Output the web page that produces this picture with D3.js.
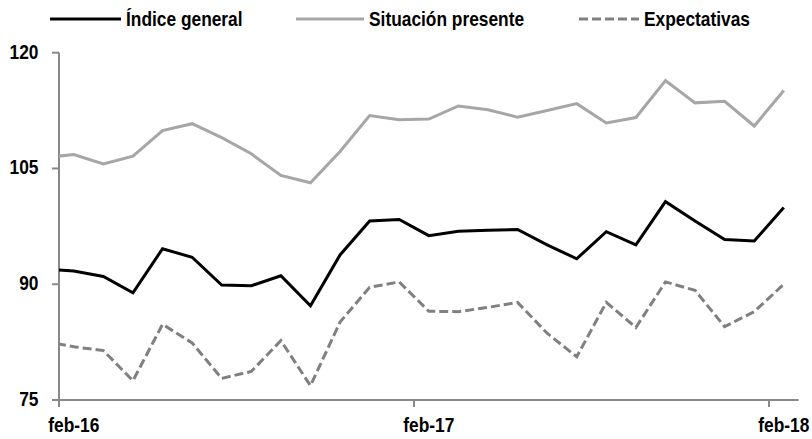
<!DOCTYPE html>
<html>
<head>
<meta charset="utf-8">
<script src="https://cdn.jsdelivr.net/npm/d3@7"></script>
<style>
  html, body { margin: 0; padding: 0; background: #fff; }
  svg { display: block; }
  text { font-family: "Liberation Sans", Arial, sans-serif; font-weight: bold; fill: #000; font-size: 19.5px; }
</style>
</head>
<body>
<svg id="chart" width="812" height="439"></svg>
<script>
// Monthly categories (jan-16 is partly outside the plotted range and clipped at the axis)
const months = ["ene-16","feb-16","mar-16","abr-16","may-16","jun-16","jul-16","ago-16","sep-16","oct-16","nov-16","dic-16",
                "ene-17","feb-17","mar-17","abr-17","may-17","jun-17","jul-17","ago-17","sep-17","oct-17","nov-17","dic-17",
                "ene-18","feb-18"];
const indiceGeneral = [92.0, 91.7, 91.0, 88.9, 94.6, 93.5, 89.9, 89.8, 91.1, 87.2, 93.8, 98.2,
                       98.4, 96.3, 96.85, 97.0, 97.1, 95.1, 93.3, 96.8, 95.1, 100.7, 98.2, 95.8,
                       95.6, 99.95];
const situacionPresente = [106.4, 106.8, 105.6, 106.6, 109.9, 110.8, 109.0, 106.9, 104.1, 103.15, 107.2, 111.85,
                           111.3, 111.4, 113.1, 112.6, 111.65, 112.5, 113.4, 110.9, 111.6, 116.4, 113.5, 113.7,
                           110.5, 115.1];
const expectativas = [82.6, 81.9, 81.4, 77.5, 84.8, 82.4, 77.8, 78.7, 82.7, 76.85, 85.1, 89.6,
                      90.3, 86.5, 86.45, 87.0, 87.65, 83.65, 80.6, 87.65, 84.4, 90.3, 89.2, 84.5,
                      86.45, 90.0];
const seriesNames = ["Índice general", "Situación presente", "Expectativas"];
const yTicks = [75, 90, 105, 120];
const xTickLabels = ["feb-16", "feb-17", "feb-18"];

(function () {
const svg = d3.select("#chart");
const mLeft = 59, mRight = 798.6, mTop = 52.7, mBottom = 400;
const narrow = 0.89; // condensed look of the original typeface

// x: month boundaries, feb-16 start = 0; each data point sits mid-month
const x = d3.scaleLinear().domain([0, 25]).range([mLeft, mRight]);
const y = d3.scaleLinear().domain([75, 120]).range([mBottom, mTop]);
const pos = i => i - 0.5;

function label(parent, tx, ty, anchor, str) {
  return parent.append("text")
    .attr("transform", `translate(${tx},${ty}) scale(${narrow},1)`)
    .attr("text-anchor", anchor).text(str);
}

svg.append("defs").append("clipPath").attr("id", "plot")
  .append("rect").attr("x", mLeft).attr("y", 0).attr("width", mRight - mLeft + 10).attr("height", 439);

const axisColor = "#898989";

// Y axis
const yAxis = svg.append("g");
yAxis.append("line").attr("x1", mLeft).attr("x2", mLeft).attr("y1", y(120)).attr("y2", y(75))
  .attr("stroke", axisColor).attr("stroke-width", 2);
yAxis.selectAll("line.t").data(yTicks).enter().append("line")
  .attr("x1", mLeft - 7).attr("x2", mLeft).attr("y1", d => y(d)).attr("y2", d => y(d))
  .attr("stroke", axisColor).attr("stroke-width", 2);
yTicks.forEach(d => label(yAxis, 38.5, y(d) + 6, "end", d));

// X axis
const xTickPos = xTickLabels.map(l => months.indexOf(l) - 1); // month-start boundaries
const xAxis = svg.append("g");
xAxis.append("line").attr("x1", mLeft).attr("x2", mRight).attr("y1", mBottom).attr("y2", mBottom)
  .attr("stroke", axisColor).attr("stroke-width", 2);
xAxis.selectAll("line.t").data(xTickPos).enter().append("line")
  .attr("x1", d => x(d)).attr("x2", d => x(d)).attr("y1", mBottom).attr("y2", mBottom + 7)
  .attr("stroke", axisColor).attr("stroke-width", 2);
xTickLabels.forEach(l => label(xAxis, x(pos(months.indexOf(l))), 432, "middle", l));

const line = d3.line().x((d, i) => x(pos(i))).y(d => y(d));
const plot = svg.append("g").attr("clip-path", "url(#plot)");

const styles = [
  { data: situacionPresente, color: "#a6a6a6", dash: null },
  { data: expectativas, color: "#808080", dash: "9,4" },
  { data: indiceGeneral, color: "#000000", dash: null }
];
styles.forEach(s => {
  plot.append("path").datum(s.data).attr("d", line)
    .attr("fill", "none").attr("stroke", s.color).attr("stroke-width", 3)
    .attr("stroke-linejoin", "miter")
    .attr("stroke-dasharray", s.dash);
});

// Legend
const legend = [
  { name: seriesNames[0], color: "#000000", dash: null, x1: 50, x2: 121 },
  { name: seriesNames[1], color: "#a6a6a6", dash: null, x1: 296, x2: 364 },
  { name: seriesNames[2], color: "#808080", dash: "9,4", x1: 579, x2: 639 }
];
const lg = svg.append("g");
legend.forEach(l => {
  lg.append("line").attr("x1", l.x1).attr("x2", l.x2).attr("y1", 19).attr("y2", 19)
    .attr("stroke", l.color).attr("stroke-width", 3).attr("stroke-dasharray", l.dash);
  label(lg, l.x2 + 5, 26, "start", l.name);
});
})();
</script>
</body>
</html>
